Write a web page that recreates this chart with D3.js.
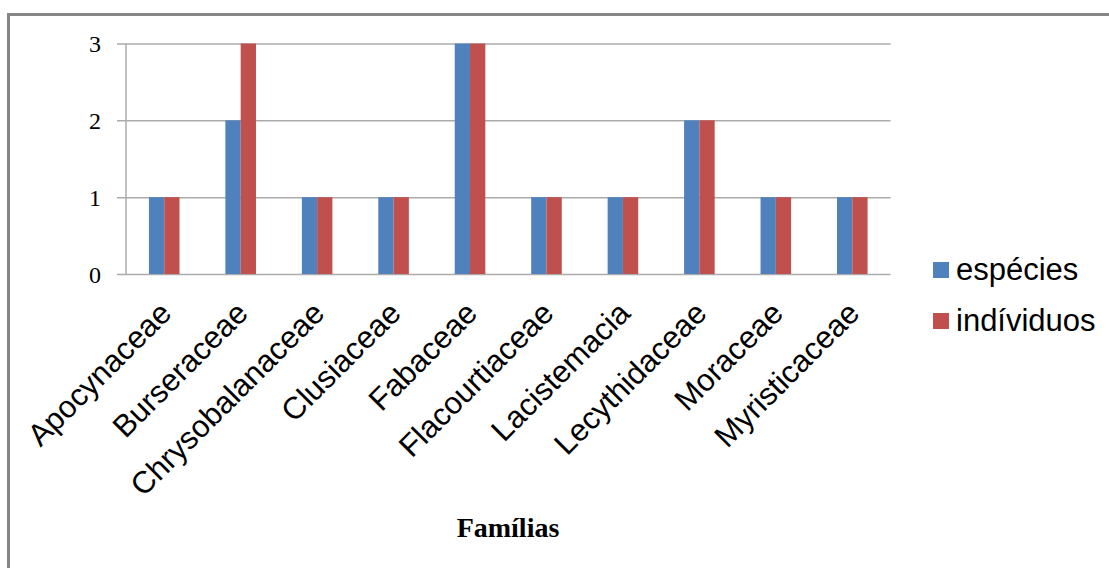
<!DOCTYPE html>
<html>
<head>
<meta charset="utf-8">
<script src="https://cdn.jsdelivr.net/npm/d3@7"></script>
<style>
  html, body { margin: 0; padding: 0; background: #ffffff; }
  svg { display: block; }
</style>
</head>
<body>
<svg id="chart" width="1109" height="568"></svg>
<script>
// Families and counts per family
const familias = ["Apocynaceae", "Burseraceae", "Chrysobalanaceae", "Clusiaceae", "Fabaceae",
                  "Flacourtiaceae", "Lacistemacia", "Lecythidaceae", "Moraceae", "Myristicaceae"];
const especies   = [1, 2, 1, 1, 3, 1, 1, 2, 1, 1];
const individuos = [1, 3, 1, 1, 3, 1, 1, 2, 1, 1];
const seriesNames = ["espécies", "indíviduos"];
const seriesColors = ["#4F81BD", "#C0504D"];
const yTicks = [0, 1, 2, 3];

const svg = d3.select("#chart");

// outer frame (only top and left edges fall inside the view)
svg.append("rect")
  .attr("x", 8.5).attr("y", 14.5)
  .attr("width", 1200).attr("height", 700)
  .attr("fill", "#ffffff")
  .attr("stroke", "#868686").attr("stroke-width", 3);

const plot = { left: 126, right: 890.5, top: 43.5, bottom: 274 };
const tickStub = 9;

const x0 = d3.scaleBand().domain(familias)
  .range([plot.left, plot.right]).paddingInner(0.6).paddingOuter(0.3);
const x1 = d3.scaleBand().domain(seriesNames).range([0, x0.bandwidth()]);
const y = d3.scaleLinear().domain([0, 3]).range([plot.bottom, plot.top]);

// gridlines, starting with a short stub left of the axis
const yAxis = d3.axisLeft(y).tickValues(yTicks)
  .tickSize(-(plot.right - plot.left + tickStub)).tickFormat("");
const gy = svg.append("g").attr("transform", `translate(${plot.left - tickStub},0)`).call(yAxis);
gy.select(".domain").remove();
gy.selectAll(".tick line").attr("stroke", "#ababab").attr("stroke-width", 1.5);

// y tick labels
svg.append("g").selectAll("text").data(yTicks).join("text")
  .attr("x", 101).attr("y", d => y(d) + 8.5)
  .attr("text-anchor", "end")
  .attr("font-family", "Liberation Serif, Times New Roman, serif")
  .attr("font-size", 24).attr("fill", "#000")
  .text(d => d);

// vertical axis line
svg.append("line")
  .attr("x1", plot.left).attr("x2", plot.left)
  .attr("y1", plot.top).attr("y2", plot.bottom)
  .attr("stroke", "#ababab").attr("stroke-width", 1.5);

// bars
const rows = familias.map((f, i) => ({ familia: f, values: [especies[i], individuos[i]] }));
const groups = svg.append("g").selectAll("g").data(rows).join("g")
  .attr("transform", d => `translate(${x0(d.familia)},0)`);
groups.selectAll("rect")
  .data(d => d.values.map((v, k) => ({ key: seriesNames[k], value: v, color: seriesColors[k] })))
  .join("rect")
  .attr("x", d => x1(d.key))
  .attr("y", d => y(d.value))
  .attr("width", x1.bandwidth())
  .attr("height", d => y(0) - y(d.value))
  .attr("fill", d => d.color);

// category labels, rotated
svg.append("g").selectAll("text").data(familias).join("text")
  .attr("transform", d => `translate(${x0(d) + x0.bandwidth() / 2 + 9},${plot.bottom + 41}) rotate(-45)`)
  .attr("text-anchor", "end")
  .attr("font-family", "Liberation Sans, Arial, sans-serif")
  .attr("font-size", 31).attr("fill", "#000")
  .text(d => d);

// axis title
svg.append("text")
  .attr("x", 508).attr("y", 537)
  .attr("text-anchor", "middle")
  .attr("font-family", "Liberation Serif, Times New Roman, serif")
  .attr("font-weight", "bold").attr("font-size", 28).attr("fill", "#000")
  .text("Famílias");

// legend
const legend = svg.append("g").selectAll("g").data(seriesNames).join("g")
  .attr("transform", (d, i) => `translate(933,${262 + i * 51})`);
legend.append("rect")
  .attr("width", 16).attr("height", 16)
  .attr("fill", (d, i) => seriesColors[i]);
legend.append("text")
  .attr("x", 23).attr("y", 18)
  .attr("font-family", "Liberation Sans, Arial, sans-serif")
  .attr("font-size", 31).attr("fill", "#000")
  .text(d => d);
</script>
</body>
</html>
